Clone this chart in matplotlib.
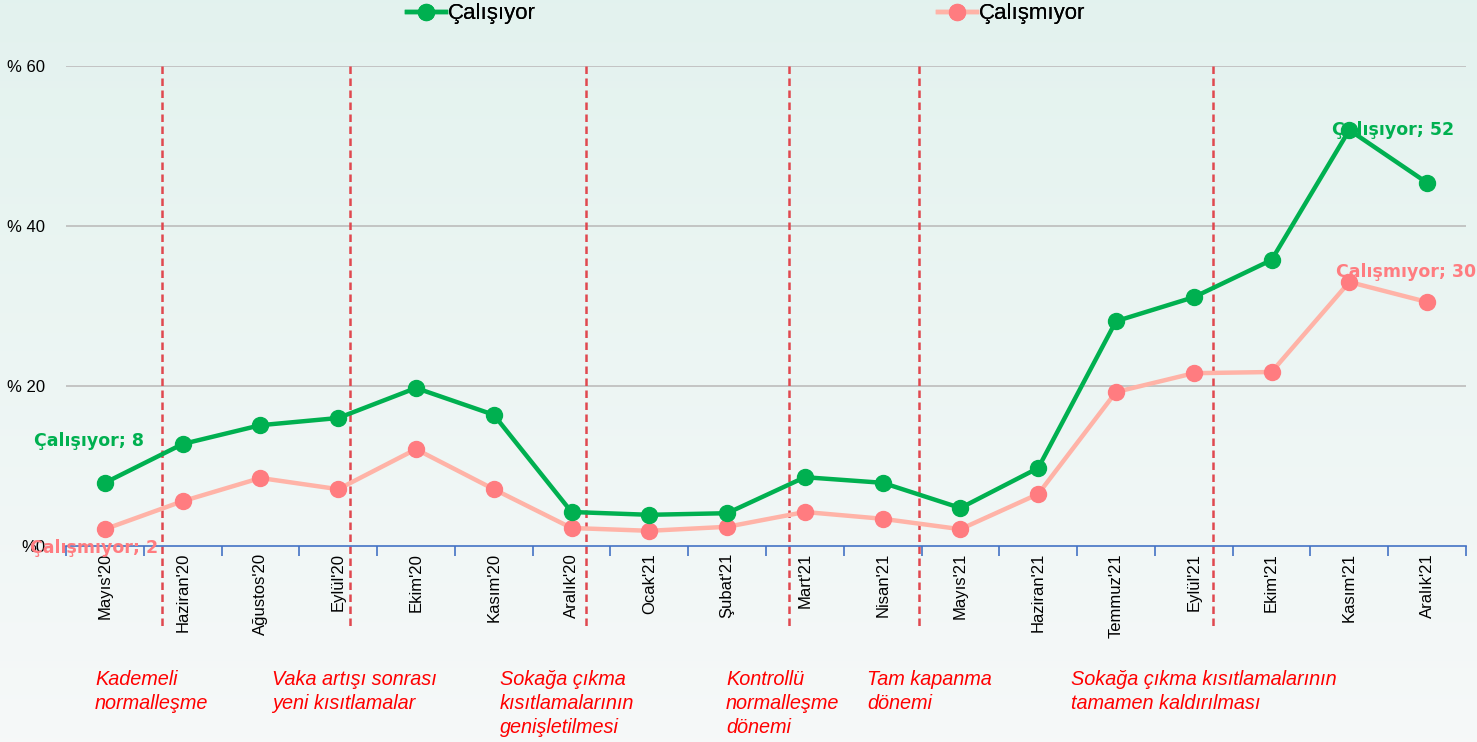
import numpy as np
import matplotlib
matplotlib.use('Agg')
import matplotlib.pyplot as plt
from matplotlib.lines import Line2D

plt.rcParams['font.family'] = ['Liberation Sans', 'DejaVu Sans']

months = ["Mayıs'20", "Haziran'20", "Ağustos'20", "Eylül'20", "Ekim'20", "Kasım'20",
          "Aralık'20", "Ocak'21", "Şubat'21", "Mart'21", "Nisan'21", "Mayıs'21",
          "Haziran'21", "Temmuz'21", "Eylül'21", "Ekim'21", "Kasım'21", "Aralık'21"]
calisiyor = [7.9, 12.75, 15.1, 16.0, 19.75, 16.4, 4.25, 3.9, 4.1, 8.6, 7.9, 4.75,
             9.75, 28.1, 31.1, 35.75, 52.0, 45.4]
calismiyor = [2.1, 5.6, 8.5, 7.1, 12.1, 7.1, 2.25, 1.9, 2.4, 4.25, 3.4, 2.1,
              6.5, 19.25, 21.6, 21.75, 33.0, 30.5]
yticks = [0, 20, 40, 60]
ytick_labels = ['%0', '% 20', '% 40', '% 60']

# period separators (category index positions) and notes below the axis
sep_pos = [0.73, 3.15, 6.18, 8.79, 10.47, 14.25]
notes = ["Kademeli\nnormalleşme", "Vaka artışı sonrası\nyeni kısıtlamalar",
         "Sokağa çıkma\nkısıtlamalarının\ngenişletilmesi",
         "Kontrollü\nnormalleşme\ndönemi", "Tam kapanma\ndönemi",
         "Sokağa çıkma kısıtlamalarının\ntamamen kaldırılması"]
note_x = [95, 272, 500, 726, 867, 1071]

green = '#00B050'
pink_line = '#FFB3A7'
pink_mark = '#FF7C80'
W, H = 1477, 742

fig = plt.figure(figsize=(W / 100, H / 100), dpi=100)

# background gradient
bg = fig.add_axes([0, 0, 1, 1], zorder=-10)
grad = np.linspace(0, 1, 256).reshape(-1, 1)
top_c = np.array([0.89, 0.95, 0.935])
bot_c = np.array([0.965, 0.975, 0.975])
img = top_c + (bot_c - top_c) * grad
bg.imshow(img[:, None, :].repeat(2, axis=1), aspect='auto', extent=[0, 1, 0, 1])
bg.axis('off')

ax = fig.add_axes([66 / W, 1 - 546 / H, 1400 / W, 480 / H])
ax.patch.set_alpha(0)
x = np.arange(len(months))

ax.plot(x, calismiyor, color=pink_line, lw=3.2, marker='o', ms=11.5,
        mfc=pink_mark, mec=pink_mark, zorder=3)
ax.plot(x, calisiyor, color=green, lw=3.2, marker='o', ms=11.5,
        mfc=green, mec=green, zorder=4)

ax.set_xlim(-0.5, len(months) - 0.5)
ax.set_ylim(0, 60)
ax.set_yticks(yticks)
ax.set_yticklabels(ytick_labels, fontsize=12)
ax.tick_params(axis='y', length=0, pad=15)
ax.set_xticks(x)
ax.set_xticklabels(months, rotation=90, fontsize=12, va='top')
ax.tick_params(axis='x', length=0, pad=5)
ax.set_xticks(np.arange(-0.5, len(months)), minor=True)
ax.tick_params(axis='x', which='minor', length=7, color='#4472C4', width=1.2)

for s in ['top', 'right', 'left']:
    ax.spines[s].set_visible(False)
ax.spines['bottom'].set_color('#4472C4')
ax.spines['bottom'].set_linewidth(1.2)

for yv in [20, 40, 60]:
    ax.axhline(yv, color='#C0C0C0', lw=1.3, zorder=1)

for p in sep_pos:
    ax.plot([p, p], [60, -10.5], color='#E0484F', lw=1.8, ls=(0, (3, 1.8)),
            clip_on=False, zorder=2)

lab_kw = dict(fontsize=12.5, fontweight='bold', family='DejaVu Sans', zorder=6)
ax.annotate('Çalışıyor; 8', (0, calisiyor[0]), xytext=(-71, 42),
            textcoords='offset pixels', color=green, ha='left', va='center', **lab_kw)
ax.annotate('Çalışmıyor; 2', (0, calismiyor[0]), xytext=(-75, -19),
            textcoords='offset pixels', color=pink_mark, ha='left', va='center', **lab_kw)
ax.annotate('Çalışıyor; 52', (16, calisiyor[16]), xytext=(-17, 0),
            textcoords='offset pixels', color=green, ha='left', va='center', **lab_kw)
ax.annotate('Çalışmıyor; 30', (16, calismiyor[16]), xytext=(-13, 10),
            textcoords='offset pixels', color=pink_mark, ha='left', va='center', **lab_kw)

for t, nx in zip(notes, note_x):
    fig.text(nx / W, 1 - 670 / H, t, color='#FF0000', fontsize=14.3, style='italic',
             family=['Liberation Sans Narrow', 'Liberation Sans'], ha='left', va='top',
             linespacing=1.33)

# legend at top, one entry per series
h_green = Line2D([], [], color=green, lw=3.2, marker='o', ms=11.5, mfc=green, mec=green)
h_pink = Line2D([], [], color=pink_line, lw=3.2, marker='o', ms=11.5,
                mfc=pink_mark, mec=pink_mark)
for h, lab, lx in [(h_green, 'Çalışıyor', 407), (h_pink, 'Çalışmıyor', 938)]:
    lg = fig.legend([h], [lab], loc='center left', bbox_to_anchor=(lx / W, 1 - 14 / H),
                    frameon=False, fontsize=16, handlelength=1.75, handletextpad=0.1,
                    borderpad=0, borderaxespad=0)
    fig.add_artist(lg)

fig.savefig('out.png', dpi=100)
